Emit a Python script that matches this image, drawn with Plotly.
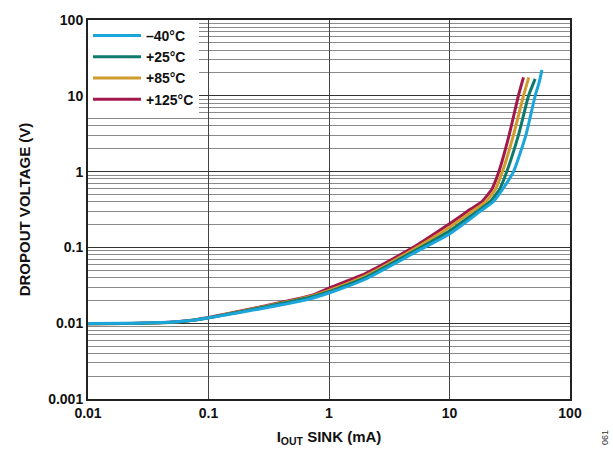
import plotly.graph_objects as go

# ---- data ----
series_names = ["\u201340\u00b0C", "+25\u00b0C", "+85\u00b0C", "+125\u00b0C"]
series_colors = ["#1ba5db", "#0e7a6c", "#cf9c2c", "#a3184b"]

x_m40 = [0.01, 0.02, 0.05, 0.08, 0.3, 0.7, 1, 2, 5, 10, 15, 18.5, 23.1, 27.5, 34, 43, 51.4, 55.5, 58.5]
y_m40 = [0.0099, 0.0100, 0.0104, 0.0111, 0.016, 0.021, 0.025, 0.038, 0.083, 0.15, 0.24, 0.31, 0.40, 0.58, 1.0, 3.0, 10, 15, 22]

x_p25 = [0.01, 0.02, 0.05, 0.08, 0.3, 0.7, 1, 2, 5, 10, 15, 18.5, 21.7, 26, 29.9, 37.3, 45.3, 51.4]
y_p25 = [0.0098, 0.0099, 0.0103, 0.0111, 0.0165, 0.022, 0.026, 0.040, 0.088, 0.165, 0.26, 0.33, 0.40, 0.58, 1.0, 3.0, 10, 16.7]

x_p85 = [0.01, 0.02, 0.05, 0.08, 0.3, 0.7, 1, 2, 5, 10, 15, 20, 24, 27.5, 33.9, 41.1, 45.5]
y_p85 = [0.0098, 0.0099, 0.0103, 0.0111, 0.0168, 0.0225, 0.027, 0.042, 0.094, 0.185, 0.29, 0.40, 0.58, 1.0, 3.0, 10, 17.5]

x_p125 = [0.01, 0.02, 0.05, 0.08, 0.3, 0.7, 1, 2, 5, 10, 15, 18.5, 22.4, 25.7, 31.2, 37.3, 41.1]
y_p125 = [0.0098, 0.0099, 0.0104, 0.0112, 0.017, 0.023, 0.029, 0.045, 0.10, 0.205, 0.32, 0.40, 0.58, 1.0, 3.0, 10, 17.5]

series_x = [x_m40, x_p25, x_p85, x_p125]
series_y = [y_m40, y_p25, y_p85, y_p125]

x_tick_vals = [0.01, 0.1, 1, 10, 100]
x_tick_text = ["0.01", "0.1", "1", "10", "100"]
y_tick_vals = [0.001, 0.01, 0.1, 1, 10, 100]
y_tick_text = ["0.001", "0.01", "0.1", "1", "10", "100"]

FONT = "Liberation Sans, Arial, sans-serif"

fig = go.Figure()
order = [3, 2, 1, 0]
for i in order:
    fig.add_trace(go.Scatter(
        x=series_x[i], y=series_y[i], mode="lines", name=series_names[i],
        line=dict(color=series_colors[i], width=3, shape="spline", smoothing=0.5),
        legendrank=i + 1,
    ))

fig.update_layout(
    width=613, height=455,
    margin=dict(l=88, r=43, t=13, b=54),
    paper_bgcolor="white", plot_bgcolor="white",
    font=dict(family=FONT, size=14, color="#111"),
    showlegend=True,
    legend=dict(
        x=0.0, y=1.0, xanchor="left", yanchor="top",
        bgcolor="white", borderwidth=0,
        font=dict(family=FONT, size=14, color="#111", weight="bold"),
        itemwidth=48, tracegroupgap=0,
    ),
)

fig.update_xaxes(
    type="log", range=[-2, 2],
    tickvals=x_tick_vals, ticktext=x_tick_text,
    tickfont=dict(family=FONT, size=14, color="#111", weight="bold"),
    showgrid=True, gridcolor="#444", gridwidth=1,
    showline=True, linecolor="#222", linewidth=2, mirror=True,
    ticks="", zeroline=False,
    title=dict(text="I<sub>OUT</sub> SINK (mA)", font=dict(family=FONT, size=15, color="#111", weight="bold"), standoff=12),
)
fig.update_yaxes(
    type="log", range=[-3, 2],
    tickvals=y_tick_vals, ticktext=y_tick_text,
    tickfont=dict(family=FONT, size=14, color="#111", weight="bold"),
    showgrid=True, gridcolor="#333", gridwidth=1,
    minor=dict(showgrid=True, gridcolor="#8a8a8a", gridwidth=1,
               tickvals=[m * 10 ** e for e in range(-3, 2) for m in range(2, 10)]),
    showline=True, linecolor="#222", linewidth=2, mirror=True,
    ticks="", zeroline=False,
    title=dict(text="DROPOUT VOLTAGE (V)", font=dict(family=FONT, size=15, color="#111", weight="bold"), standoff=14),
)

fig.add_annotation(
    text="061", x=1.0, y=0.0, xref="paper", yref="paper",
    xanchor="center", yanchor="middle", xshift=35, yshift=-39,
    textangle=-90, showarrow=False,
    font=dict(family=FONT, size=9, color="#333"),
)

fig.write_html("out.html", config={"displayModeBar": False},
               post_script="document.body.style.margin='0';")
